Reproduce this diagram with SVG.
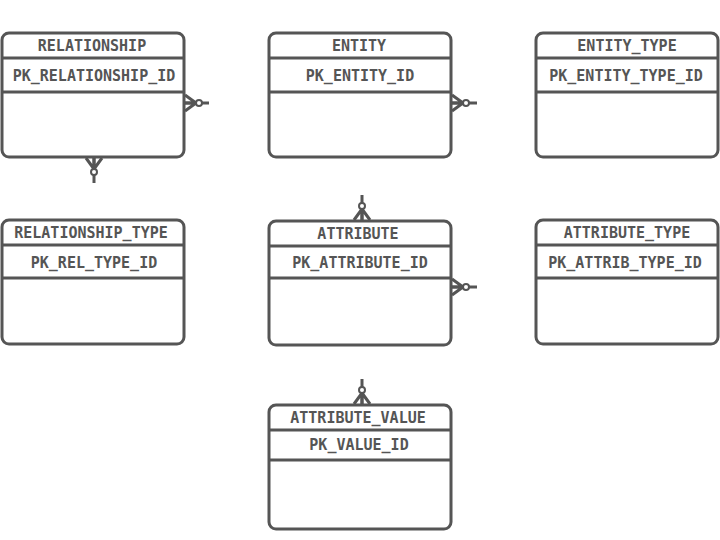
<svg xmlns="http://www.w3.org/2000/svg" width="720" height="540" viewBox="0 0 720 540">
<style>
.box{fill:#fff;stroke:#555;stroke-width:3}
.div{stroke:#555;stroke-width:3}
.hd{font-family:"DejaVu Sans Mono","Liberation Mono",monospace;font-weight:bold;font-size:15px;fill:#555;text-anchor:middle}
.pk{font-family:"DejaVu Sans Mono","Liberation Mono",monospace;font-weight:bold;font-size:15px;fill:#555;text-anchor:middle}
.con{stroke:#555;stroke-width:3;fill:none;marker-start:url(#crow)}
</style>
<defs>
<marker id="crow" markerUnits="userSpaceOnUse" markerWidth="30" markerHeight="30" viewBox="-2 -10 30 20" refX="0" refY="0" orient="auto" overflow="visible">
<path d="M0,-8 L11,0 M0,0 L11,0 M0,8 L11,0" stroke="#555" stroke-width="3" fill="none"/>
<circle cx="14" cy="0" r="3" fill="#fff" stroke="#555" stroke-width="2"/>
</marker>
</defs>
<g id="connectors">
<line class="con" x1="185" y1="103" x2="209" y2="103"/>
<line class="con" x1="94" y1="158" x2="94" y2="183"/>
<line class="con" x1="452" y1="103" x2="477" y2="103"/>
<line class="con" x1="362" y1="220" x2="362" y2="195"/>
<line class="con" x1="452" y1="287" x2="477" y2="287"/>
<line class="con" x1="362" y1="404" x2="362" y2="379"/>
</g>
<g id="relationship">
<rect class="box" x="2" y="33" width="182" height="124" rx="7"/>
<line class="div" x1="2" y1="58" x2="184" y2="58"/>
<line class="div" x1="2" y1="92" x2="184" y2="92"/>
<text class="hd" x="92" y="51">RELATIONSHIP</text>
<text class="pk" x="94" y="81">PK_RELATIONSHIP_ID</text>
</g>
<g id="entity">
<rect class="box" x="269" y="33" width="182" height="124" rx="7"/>
<line class="div" x1="269" y1="58" x2="451" y2="58"/>
<line class="div" x1="269" y1="92" x2="451" y2="92"/>
<text class="hd" x="359" y="51">ENTITY</text>
<text class="pk" x="360" y="81">PK_ENTITY_ID</text>
</g>
<g id="entity_type">
<rect class="box" x="536" y="33" width="182" height="124" rx="7"/>
<line class="div" x1="536" y1="58" x2="718" y2="58"/>
<line class="div" x1="536" y1="92" x2="718" y2="92"/>
<text class="hd" x="627" y="51">ENTITY_TYPE</text>
<text class="pk" x="626" y="81">PK_ENTITY_TYPE_ID</text>
</g>
<g id="relationship_type">
<rect class="box" x="2" y="220" width="182" height="124" rx="7"/>
<line class="div" x1="2" y1="245" x2="184" y2="245"/>
<line class="div" x1="2" y1="278" x2="184" y2="278"/>
<text class="hd" x="91" y="238">RELATIONSHIP_TYPE</text>
<text class="pk" x="94" y="268">PK_REL_TYPE_ID</text>
</g>
<g id="attribute">
<rect class="box" x="269" y="221" width="182" height="124" rx="7"/>
<line class="div" x1="269" y1="246" x2="451" y2="246"/>
<line class="div" x1="269" y1="278" x2="451" y2="278"/>
<text class="hd" x="358" y="239">ATTRIBUTE</text>
<text class="pk" x="360" y="268">PK_ATTRIBUTE_ID</text>
</g>
<g id="attribute_type">
<rect class="box" x="536" y="220" width="182" height="124" rx="7"/>
<line class="div" x1="536" y1="245" x2="718" y2="245"/>
<line class="div" x1="536" y1="278" x2="718" y2="278"/>
<text class="hd" x="627" y="238">ATTRIBUTE_TYPE</text>
<text class="pk" x="625" y="268">PK_ATTRIB_TYPE_ID</text>
</g>
<g id="attribute_value">
<rect class="box" x="269" y="405" width="182" height="124" rx="7"/>
<line class="div" x1="269" y1="430" x2="451" y2="430"/>
<line class="div" x1="269" y1="460" x2="451" y2="460"/>
<text class="hd" x="358" y="423">ATTRIBUTE_VALUE</text>
<text class="pk" x="359" y="450">PK_VALUE_ID</text>
</g>
</svg>
